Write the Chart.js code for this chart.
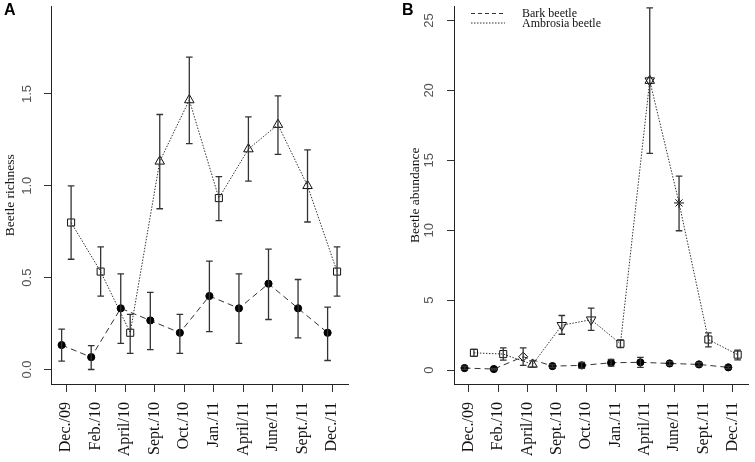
<!DOCTYPE html>
<html>
<head>
<meta charset="utf-8">
<script src="https://cdn.jsdelivr.net/npm/chart.js@4.4.1/dist/chart.umd.min.js"></script>
<style>
  html, body { margin: 0; padding: 0; background: #fff; }
  #wrap { position: relative; width: 755px; height: 462px; overflow: hidden; }
  .panel { position: absolute; top: 0; height: 462px; }
  #panelA { left: 0; width: 377px; }
  #panelB { left: 377px; width: 378px; }
</style>
</head>
<body>
<div id="wrap">
  <div class="panel" id="panelA"><canvas id="richChart"></canvas></div>
  <div class="panel" id="panelB"><canvas id="abundChart"></canvas></div>
</div>
<script>
// Sampling dates (x categories)
const months = ['Dec./09', 'Feb./10', 'April/10', 'Sept./10', 'Oct./10', 'Jan./11', 'April/11', 'June/11', 'Sept./11', 'Dec./11'];

// Panel A - beetle richness
const barkRich   = [0.133, 0.067, 0.333, 0.267, 0.2, 0.4, 0.333, 0.467, 0.333, 0.2];
const barkRichHi = [0.22, 0.13, 0.52, 0.42, 0.30, 0.59, 0.52, 0.655, 0.49, 0.34];
const barkRichLo = [0.045, 0.0, 0.142, 0.108, 0.088, 0.206, 0.142, 0.272, 0.172, 0.049];
const ambRich    = [0.8, 0.533, 0.2, 1.133, 1.467, 0.933, 1.2, 1.333, 1.0, 0.533];
const ambRichHi  = [1.0, 0.668, 0.30, 1.388, 1.70, 1.05, 1.375, 1.489, 1.195, 0.668];
const ambRichLo  = [0.6, 0.399, 0.088, 0.875, 1.229, 0.81, 1.025, 1.171, 0.803, 0.399];
const barkRichShape = ['dot', 'dot', 'dot', 'dot', 'dot', 'dot', 'dot', 'dot', 'dot', 'dot'];
const ambRichShape  = ['square', 'square', 'square', 'up', 'up', 'square', 'up', 'up', 'up', 'square'];
const richTicks = [0, 0.5, 1.0, 1.5];
const richTickText = ['0.0', '0.5', '1.0', '1.5'];

// Panel B - beetle abundance
const barkAbund   = [0.14, 0.07, 0.95, 0.28, 0.33, 0.52, 0.55, 0.47, 0.40, 0.19];
const barkAbundHi = [0.25, 0.12, 1.59, 0.38, 0.55, 0.76, 0.90, 0.60, 0.52, 0.28];
const barkAbundLo = [0.05, 0.02, 0.33, 0.18, 0.12, 0.28, 0.19, 0.34, 0.28, 0.10];
const ambAbund    = [1.23, 1.14, 0.40, 3.2, 3.6, 1.88, 20.7, 11.95, 2.18, 1.1];
const ambAbundHi  = [1.47, 1.59, 0.65, 3.9, 4.43, 2.15, 25.9, 13.87, 2.65, 1.42];
const ambAbundLo  = [0.98, 0.71, 0.20, 2.56, 2.84, 1.6, 15.5, 9.96, 1.66, 0.72];
const barkAbundShape = ['dot', 'dot', 'diamond', 'dot', 'dot', 'dot', 'dot', 'dot', 'dot', 'dot'];
const ambAbundShape  = ['square', 'square', 'up', 'down', 'down', 'square', 'david', 'asterisk', 'square', 'square'];
const abundTicks = [0, 5, 10, 15, 20, 25];
const abundTickText = ['0', '5', '10', '15', '20', '25'];

const seriesNames = ['Bark beetle', 'Ambrosia beetle'];

// small horizontal shift of each series, like the R plot
const barkShift = -0.15;
const ambShift = 0.17;

const INK = '#222';
const SERIF = '"Liberation Serif", "Times New Roman", serif';
const SANS = '"Liberation Sans", Arial, sans-serif';

function pStyle(s) {
    if (s === 'square') return 'rect';
    if (s === 'asterisk') return 'star';
    if (s === 'dot') return 'circle';
    if (s === 'diamond') return 'rectRot';
    return 'triangle';
}
function pRadius(s) {
    if (s === 'dot') return 3.6;
    if (s === 'square') return 5;
    if (s === 'asterisk') return 5;
    if (s === 'diamond') return 4.5;
    return 5.5;
}

// error bars, rotated y labels, axis title, panel letter, legend
const rPlot = {
    id: 'rPlot',
    afterDatasetsDraw(chart) {
        const ctx = chart.ctx;
        const y = chart.scales.y;
        ctx.save();
        ctx.strokeStyle = '#333';
        ctx.lineWidth = 1.3;
        chart.data.datasets.forEach((ds, di) => {
            if (!ds.errHi) return;
            const meta = chart.getDatasetMeta(di);
            meta.data.forEach((pt, j) => {
                const top = y.getPixelForValue(ds.errHi[j]);
                const bot = y.getPixelForValue(ds.errLo[j]);
                ctx.beginPath();
                ctx.moveTo(pt.x, top); ctx.lineTo(pt.x, bot);
                ctx.moveTo(pt.x - 3.3, top); ctx.lineTo(pt.x + 3.3, top);
                ctx.moveTo(pt.x - 3.3, bot); ctx.lineTo(pt.x + 3.3, bot);
                ctx.stroke();
            });
        });
        ctx.restore();
    },
    afterDraw(chart, args, opts) {
        const ctx = chart.ctx;
        const y = chart.scales.y;
        ctx.save();
        // y tick labels, parallel to the axis
        ctx.fillStyle = '#555';
        ctx.font = '13px ' + SANS;
        ctx.textAlign = 'center';
        ctx.textBaseline = 'middle';
        opts.ticks.forEach((v, i) => {
            ctx.save();
            ctx.translate(opts.tickX, y.getPixelForValue(v));
            ctx.rotate(-Math.PI / 2);
            ctx.fillText(opts.tickText[i], 0, 0);
            ctx.restore();
        });
        // axis title
        ctx.fillStyle = '#111';
        ctx.font = '13.5px ' + SERIF;
        ctx.textBaseline = 'alphabetic';
        ctx.save();
        ctx.translate(opts.titleX, (chart.chartArea.top + chart.chartArea.bottom) / 2);
        ctx.rotate(-Math.PI / 2);
        ctx.fillText(opts.title, 0, 0);
        ctx.restore();
        // panel letter
        ctx.font = 'bold 16px ' + SANS;
        ctx.textAlign = 'left';
        ctx.textBaseline = 'top';
        ctx.fillStyle = '#000';
        ctx.fillText(opts.letter, opts.letterX, 3);
        // legend
        if (opts.legend) {
            const lx = opts.legendX;
            ctx.strokeStyle = '#333';
            ctx.lineWidth = 1;
            ctx.setLineDash([4, 3]);
            ctx.beginPath(); ctx.moveTo(lx, 13.5); ctx.lineTo(lx + 34, 13.5); ctx.stroke();
            ctx.setLineDash([1.5, 1.5]);
            ctx.beginPath(); ctx.moveTo(lx, 23); ctx.lineTo(lx + 34, 23); ctx.stroke();
            ctx.setLineDash([]);
            ctx.fillStyle = '#111';
            ctx.font = '12px ' + SERIF;
            ctx.textBaseline = 'middle';
            ctx.fillText(seriesNames[0], lx + 51, 13.5);
            ctx.fillText(seriesNames[1], lx + 51, 23.5);
        }
        ctx.restore();
    }
};

function buildChart(canvasId, p) {
    const barkPts = p.bark.map((v, i) => ({ x: i + 1 + barkShift, y: v }));
    const ambPts = p.amb.map((v, i) => ({ x: i + 1 + ambShift, y: v }));
    const overlayPts = p.amb.map((v, i) => ({ x: i + 1 + ambShift, y: p.ambShape[i] === 'david' ? v : null }));

    const datasets = [
        {
            label: seriesNames[0],
            data: barkPts,
            errHi: p.barkHi,
            errLo: p.barkLo,
            borderColor: '#333',
            borderWidth: 1,
            borderDash: [6, 4],
            pointStyle: p.barkShape.map(pStyle),
            pointRadius: p.barkShape.map(pRadius),
            pointBackgroundColor: p.barkShape.map(s => s === 'dot' ? '#000' : 'rgba(0,0,0,0)'),
            pointBorderColor: '#000',
            pointBorderWidth: 1
        },
        {
            label: seriesNames[1],
            data: ambPts,
            errHi: p.ambHi,
            errLo: p.ambLo,
            borderColor: '#333',
            borderWidth: 1,
            borderDash: [1.5, 1.5],
            pointStyle: p.ambShape.map(pStyle),
            pointRadius: p.ambShape.map(pRadius),
            pointRotation: p.ambShape.map(s => s === 'down' ? 180 : 0),
            pointBackgroundColor: 'rgba(0,0,0,0)',
            pointBorderColor: '#111',
            pointBorderWidth: 1
        },
        {
            // second triangle for the star-shaped marker
            label: 'overlay',
            data: overlayPts,
            showLine: false,
            pointStyle: 'triangle',
            pointRotation: 180,
            pointRadius: 5.5,
            pointBackgroundColor: 'rgba(0,0,0,0)',
            pointBorderColor: '#111',
            pointBorderWidth: 1
        }
    ];

    return new Chart(document.getElementById(canvasId), {
        type: 'line',
        data: { datasets },
        options: {
            responsive: true,
            maintainAspectRatio: false,
            animation: false,
            events: [],
            layout: { padding: { top: 4, right: p.padRight, left: 0, bottom: 0 } },
            plugins: {
                legend: { display: false },
                tooltip: { enabled: false },
                rPlot: p.deco
            },
            scales: {
                x: {
                    type: 'linear',
                    min: 0.49,
                    max: 10.54,
                    afterBuildTicks: scale => { scale.ticks = months.map((m, i) => ({ value: i + 1 })); },
                    afterFit: scale => {
                        scale.height = 78;
                        scale.paddingLeft = 0;
                        scale.paddingRight = 0;
                    },
                    ticks: {
                        callback: v => months[v - 1],
                        autoSkip: false,
                        minRotation: 90,
                        maxRotation: 90,
                        padding: 10,
                        color: '#111',
                        font: { family: SERIF, size: 16 }
                    },
                    grid: { drawOnChartArea: false, drawTicks: true, tickLength: 8, color: '#333', lineWidth: 1 },
                    border: { display: true, color: INK, width: 1 }
                },
                y: {
                    type: 'linear',
                    min: p.yMin,
                    max: p.yMax,
                    afterBuildTicks: scale => { scale.ticks = p.deco.ticks.map(v => ({ value: v })); },
                    afterFit: scale => { scale.width = p.axisWidth; },
                    ticks: { display: false },
                    grid: { drawOnChartArea: false, drawTicks: true, tickLength: 7, color: '#333', lineWidth: 1 },
                    border: { display: true, color: INK, width: 1 }
                }
            }
        },
        plugins: [rPlot]
    });
}

buildChart('richChart', {
    bark: barkRich, barkHi: barkRichHi, barkLo: barkRichLo, barkShape: barkRichShape,
    amb: ambRich, ambHi: ambRichHi, ambLo: ambRichLo, ambShape: ambRichShape,
    yMin: -0.079, yMax: 1.976,
    axisWidth: 51, padRight: 29,
    deco: { ticks: richTicks, tickText: richTickText, tickX: 27, title: 'Beetle richness', titleX: 14, letter: 'A', letterX: 4, legend: false }
});

buildChart('abundChart', {
    bark: barkAbund, barkHi: barkAbundHi, barkLo: barkAbundLo, barkShape: barkAbundShape,
    amb: ambAbund, ambHi: ambAbundHi, ambLo: ambAbundLo, ambShape: ambAbundShape,
    yMin: -1, yMax: 26,
    axisWidth: 77, padRight: 3,
    deco: { ticks: abundTicks, tickText: abundTickText, tickX: 52, title: 'Beetle abundance', titleX: 42, letter: 'B', letterX: 25, legend: true, legendX: 94 }
});
</script>
</body>
</html>
